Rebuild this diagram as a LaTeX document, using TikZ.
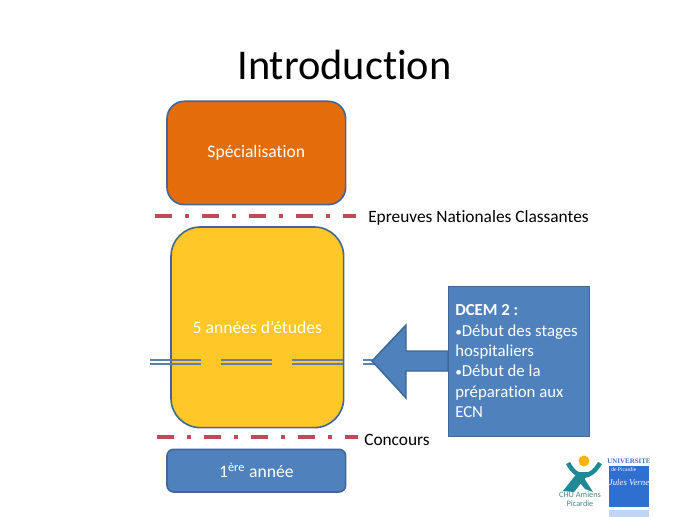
\documentclass[tikz,border=0pt]{standalone}
\usepackage{fontspec}
\setmainfont[RawFeature={-liga}]{Carlito}
\newfontfamily\serifuniv{Liberation Serif}
\definecolor{bluefill}{HTML}{4F81BD}
\definecolor{blueline}{HTML}{3F6797}
\definecolor{orangefill}{HTML}{E46C0A}
\definecolor{yellowfill}{HTML}{FFC728}
\definecolor{redline}{HTML}{BE4B55}
\definecolor{tealmark}{HTML}{1F8A96}
\definecolor{unired}{HTML}{2F6FD0}
\tikzset{
  boxbase/.style={draw=blueline,line width=1.2pt,rounded corners=#1,anchor=north west,inner sep=0pt,text=white,font=\fontsize{13.2}{16}\selectfont},
  sep/.style={draw=redline,line width=3pt,dash pattern=on 12.75pt off 9.75pt on 3pt off 9.75pt},
  rail/.style={draw=bluefill!75!gray,line width=1.25pt,dash pattern=on 38.25pt off 15pt},
  lab/.style={font=\fontsize{13}{16}\selectfont,text=black,anchor=west,inner sep=0pt},
}
\begin{document}
\begin{tikzpicture}[x=0.75pt,y=-0.75pt]
\useasboundingbox (0,0) rectangle (689,517);
\fill[white] (0,0) rectangle (689,517);
\node[font=\fontsize{31.8}{36}\selectfont,inner sep=0pt] (title) at (344.5,64.5) {Introduction};
\node[boxbase=13pt,fill=orangefill,minimum width=134pt,minimum height=77.5pt] (spec) at (166.2,100.5) {Spécialisation};
\node[boxbase=22pt,fill=yellowfill,minimum width=129.5pt,minimum height=150.5pt] (etudes) at (170.2,226.2) {5 années d’études};
\node[boxbase=5pt,fill=bluefill,minimum width=134pt,minimum height=32pt] (annee) at (166.2,448.5) {1\textsuperscript{ère} année};
\coordinate (r1a) at (150,360.3);\coordinate (r1b) at (376,360.3);
\coordinate (r2a) at (150,364);\coordinate (r2b) at (376,364);
\draw[rail] (r1a) -- (r1b);
\draw[rail] (r2a) -- (r2b);
\coordinate (s1a) at (155,216);\coordinate (s1b) at (356,216);
\coordinate (s2a) at (157,437);\coordinate (s2b) at (358,437);
\draw[sep] (s1a) -- (s1b);
\draw[sep] (s2a) -- (s2b);
\node[lab] (enc) at (368,218) {Epreuves Nationales Classantes};
\node[lab] (conc) at (364,440) {Concours};
\fill[bluefill,draw=blueline,line width=1.1pt] (448,351) -- (406,351) -- (406,325) -- (372,361) -- (406,398) -- (406,371) -- (448,371) -- cycle;
\node[draw=blueline,line width=1.1pt,fill=bluefill,anchor=north west,minimum width=105.75pt,minimum height=112.5pt,inner sep=0pt] (dcem) at (448,286) {};
\node[anchor=north west,inner sep=0pt,align=left,text=white,font=\fontsize{12.6}{15.3}\selectfont] (dcemtxt) at (455,304.5) {\textbf{DCEM 2 :}\\{\fontsize{10}{15.3}\selectfont•}Début des stages\\hospitaliers\\{\fontsize{10}{15.3}\selectfont•}Début de la\\préparation aux\\ECN};
% logos
\fill[orange!60!yellow] (584,461) circle (5.5);
\draw[tealmark,line width=3.4pt] (568,463) .. controls (577,480) and (590,480) .. (600,463);
\fill[tealmark] (578,472) -- (590,472) -- (574,492) -- (563,491) -- cycle;
\fill[tealmark] (584,478) -- (593,492) -- (585,489) -- (580,483) -- cycle;
\node[font=\fontsize{6.2}{6.6}\selectfont,text=tealmark!50!gray,inner sep=0pt,align=center] (chu) at (580,499.5) {CHU Amiens\\Picardie};
\node[font=\fontsize{5.2}{6}\selectfont\serifuniv\bfseries,text=unired!85!gray,inner sep=0pt] (univ) at (629,461) {UNIVERSITE};
\fill[unired] (609,466) rectangle (649,507);
\fill[unired!30] (609,510) rectangle (649,517);
\node[font=\fontsize{4.2}{5}\selectfont\serifuniv,text=white,inner sep=0pt,anchor=west] (pic) at (611,469.5) {de Picardie};
\node[font=\fontsize{6.6}{8}\selectfont\serifuniv\itshape,text=white,inner sep=0pt] (jv) at (629,483) {Jules Verne};
\end{tikzpicture}
\end{document}
